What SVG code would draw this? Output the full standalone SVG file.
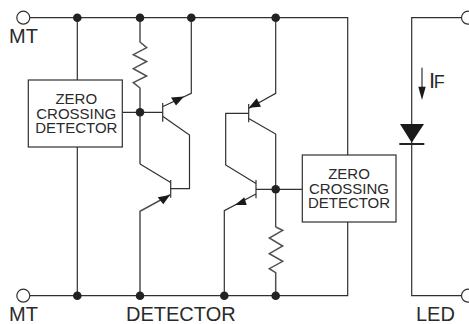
<svg xmlns="http://www.w3.org/2000/svg" width="469" height="324" viewBox="0 0 469 324">
<style>
.w{fill:none;stroke:#303030;stroke-width:1.2;stroke-linejoin:miter}
.g{fill:none;stroke:#505050;stroke-width:1.5}
.b{fill:#fff;stroke:#303030;stroke-width:1.2}
.t{font-family:"Liberation Sans",Arial,sans-serif;fill:#2a2a2a}
.s{font-size:15px;text-anchor:middle}
.l{font-size:20px}
.d{fill:#222}
.o{fill:#fff;stroke:#303030;stroke-width:1.2}
.a{fill:#1a1a1a}
</style>
<g id="connectors">
<path class="w" d="M30 17.700H347.700V155M347.700 222V295.700H30"/>
<path class="w" d="M77.300 17.700V80M77.300 147V295.700"/>
<path class="g" d="M140 17.700V42L146.700 47.700 133.300 54.700 146.700 61.500 133.300 68.700 146.700 76 133.300 82.700 140 88V164"/>
<path class="w" d="M122 112.300H162.700"/>
<path class="w" d="M162.700 103V121.700"/>
<path class="w" d="M163 106.500L191.300 93.300V17.700"/>
<path class="w" d="M163 116.500L189.500 135V188.700H170.700"/>
<path class="w" d="M170.700 180V197.700"/>
<path class="w" d="M140 164L170.700 182.500"/>
<path class="g" d="M170.700 194.500L140 211.300V295.700"/>
<path class="w" d="M275.700 17.700V93.300L248.500 108.500"/>
<path class="w" d="M248.700 104V122.300"/>
<path class="w" d="M248.700 113.400H225.700V165L256 183.500"/>
<path class="w" d="M248.700 118.500L275.700 134V227"/>
<path class="w" d="M256 180V198.300"/>
<path class="w" d="M256 189.300H302"/>
<path class="w" d="M256 194L224.300 210.700V295.700"/>
<path class="g" d="M275.700 227L282.700 230.300 269.300 238 282.700 246 269.300 253.700 282.700 261.300 269.300 268.700 275.700 272.700V295.700"/>
<path class="w" d="M461.500 17.700H411.700V295.700H461.500"/>
<path class="w" d="M422 67.700V90"/>
<path d="M399.300 144H424.300" fill="none" stroke="#222" stroke-width="2"/>
</g>
<g id="arrowheads">
<polygon class="a" points="184,96.500 171,97.500 176,105.500"/>
<polygon class="a" points="170,195 157.700,197.300 163.300,204.300"/>
<polygon class="a" points="248.800,107.700 256.700,98.300 261,106.700"/>
<polygon class="a" points="235,205 244.300,197.300 246.700,205"/>
<polygon class="a" points="422,100 418.300,86.700 425.700,86.700"/>
<polygon class="a" points="400,124 424,124 411.700,142.700"/>
</g>
<g id="junctions">
<circle class="d" cx="77.300" cy="17.700" r="4.300"/><circle class="d" cx="140" cy="17.700" r="4.300"/><circle class="d" cx="191.300" cy="17.700" r="4.300"/><circle class="d" cx="275.700" cy="17.700" r="4.300"/>
<circle class="d" cx="140" cy="112.300" r="4.300"/><circle class="d" cx="275.700" cy="189.300" r="4.300"/>
<circle class="d" cx="77.300" cy="295.700" r="4.300"/><circle class="d" cx="140" cy="295.700" r="4.300"/><circle class="d" cx="224.300" cy="295.700" r="4.300"/><circle class="d" cx="275.700" cy="295.700" r="4.300"/>
</g>
<g id="terminal-mt-top"><circle class="o" cx="23.300" cy="17.700" r="6.500"/><text class="t l" x="9" y="43.300">MT</text></g>
<g id="terminal-mt-bottom"><circle class="o" cx="23.300" cy="295.700" r="6.500"/><text class="t l" x="9" y="321">MT</text></g>
<g id="terminal-led-top"><circle class="o" cx="468" cy="17.700" r="6.500"/></g>
<g id="terminal-led-bottom"><circle class="o" cx="468" cy="295.700" r="6.500"/><text class="t l" x="416" y="321">LED</text></g>
<g id="zcd-left"><rect class="b" x="28.300" y="80" width="94" height="67"/><text class="t s" x="76.300" y="104">ZERO</text><text class="t s" x="76.300" y="119">CROSSING</text><text class="t s" x="76.300" y="133.300">DETECTOR</text></g>
<g id="zcd-right"><rect class="b" x="302.300" y="155" width="93.700" height="67"/><text class="t s" x="349" y="178.700">ZERO</text><text class="t s" x="349" y="193.700">CROSSING</text><text class="t s" x="349" y="208.400">DETECTOR</text></g>
<text class="t l" x="126" y="321">DETECTOR</text>
<text class="t" y="87.500" font-size="18"><tspan x="429" font-size="22">I</tspan><tspan x="433.800">F</tspan></text>
</svg>
